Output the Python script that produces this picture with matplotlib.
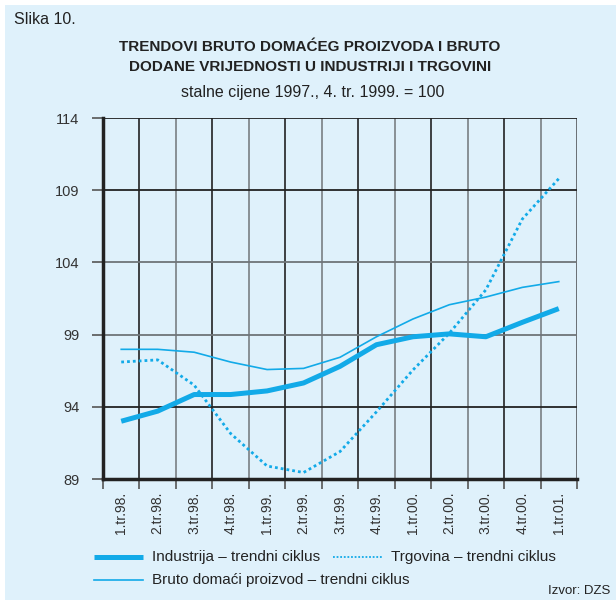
import matplotlib.pyplot as plt
from matplotlib.lines import Line2D
from matplotlib.patches import Rectangle

plt.rcParams['font.family'] = ['Liberation Sans Narrow', 'Liberation Sans', 'DejaVu Sans']

quarters = ['1.tr.98.', '2.tr.98.', '3.tr.98.', '4.tr.98.', '1.tr.99.', '2.tr.99.', '3.tr.99.',
            '4.tr.99.', '1.tr.00.', '2.tr.00.', '3.tr.00.', '4.tr.00.', '1.tr.01.']
industrija = [93.0, 93.7, 94.85, 94.85, 95.1, 95.65, 96.8, 98.3, 98.85, 99.05, 98.85, 99.85, 100.8]
trgovina = [97.1, 97.25, 95.5, 92.15, 89.9, 89.45, 90.9, 93.65, 96.55, 99.1, 102.1, 107.0, 109.8]
bdp = [97.98, 97.98, 97.78, 97.1, 96.58, 96.66, 97.43, 98.85, 100.08, 101.07, 101.6, 102.27, 102.67]
yticks = [89, 94, 99, 104, 109, 114]

bg = '#dff1fb'
blue = '#12aae8'
txt = '#222222'
sans = ['Liberation Sans', 'DejaVu Sans']

fig = plt.figure(figsize=(6.16, 6.0), dpi=100)
fig.patch.set_facecolor('white')
fig.patches.append(Rectangle((5/616, 0), 1, 595/600, transform=fig.transFigure,
                             facecolor=bg, edgecolor='none', zorder=-10))

ax = fig.add_axes([103/616, 121/600, 474/616, 361/600])
ax.set_facecolor(bg)
n = len(quarters)
x = list(range(n))

# grid lines: alternating dark / gray
for i in range(1, n + 1):
    c = '#222222' if i % 2 == 1 else '#7a7f84'
    if i == n:
        c = '#55595d'
    ax.axvline(i - 0.5, color=c, lw=1.2, zorder=1)
hcol = {94: '#222222', 99: '#6f7478', 104: '#6f7478', 109: '#222222', 114: '#222222'}
for v, c in hcol.items():
    ax.axhline(v, color=c, lw=1.3, zorder=1)

ax.plot(x, bdp, color=blue, lw=1.2, zorder=3)
ax.plot(x, trgovina, color=blue, lw=2.0, linestyle=(0, (1, 1.1)), zorder=3)
ax.plot(x, industrija, color=blue, lw=3.6, zorder=4, solid_capstyle='butt')

ax.set_xlim(-0.5, n - 0.5)
ax.set_ylim(89, 114)
ax.set_yticks(yticks)
ax.set_yticklabels([str(v) for v in yticks], fontsize=10.5, family=sans)
ax.set_xticks([i - 0.5 for i in range(n + 1)])
ax.set_xticklabels([])
ax.set_xticks(x, minor=True)
ax.set_xticklabels(quarters, minor=True, rotation=90, fontsize=10, family=sans, va='top')
ax.tick_params(axis='x', which='minor', length=0, pad=9, colors='#333333')
ax.tick_params(axis='x', which='major', length=7, width=1.2, color='#555555')
ax.tick_params(axis='y', length=8, width=1.2, color='#555555', pad=9, labelcolor='#333333')

for s in ['top', 'right']:
    ax.spines[s].set_visible(False)
for s in ['left', 'bottom']:
    ax.spines[s].set_linewidth(2.5)
    ax.spines[s].set_color('#222222')

# texts
fig.text(14/616, 1 - 19/600, 'Slika 10.', fontsize=11.5, va='center', ha='left', color=txt)
fig.text(310/616, 1 - 47/600, 'TRENDOVI BRUTO DOMAĆEG PROIZVODA I BRUTO', fontsize=11,
         fontweight='bold', ha='center', va='center', color=txt)
fig.text(310/616, 1 - 67/600, 'DODANE VRIJEDNOSTI U INDUSTRIJI I TRGOVINI', fontsize=11,
         fontweight='bold', ha='center', va='center', color=txt)
fig.text(313/616, 1 - 92/600, 'stalne cijene 1997., 4. tr. 1999. = 100', fontsize=11.5,
         ha='center', va='center', color=txt, family=sans)

# legend drawn by hand
lx0, lx1 = 94/616, 143/616
fig.add_artist(Line2D([lx0, lx1], [1 - 557/600] * 2, color=blue, lw=3.6, solid_capstyle='butt'))
fig.text(152/616, 1 - 557/600, 'Industrija – trendni ciklus', fontsize=11, va='center',
         color=txt, family=sans)
fig.add_artist(Line2D([333/616, 383/616], [1 - 557/600] * 2, color=blue, lw=1.3,
                      linestyle=(0, (1, 1))))
fig.text(391/616, 1 - 557/600, 'Trgovina – trendni ciklus', fontsize=11, va='center',
         color=txt, family=sans)
fig.add_artist(Line2D([lx0, lx1], [1 - 580/600] * 2, color=blue, lw=1.2))
fig.text(152/616, 1 - 580/600, 'Bruto domaći proizvod – trendni ciklus', fontsize=11, va='center',
         color=txt, family=sans)
fig.text(610/616, 1 - 591/600, 'Izvor: DZS', fontsize=9.5, ha='right', va='center',
         color=txt, family=sans)

plt.savefig('out.png', dpi=100, facecolor=fig.get_facecolor())
